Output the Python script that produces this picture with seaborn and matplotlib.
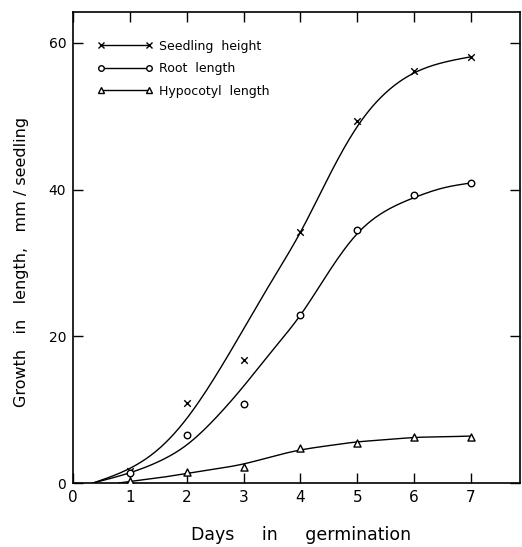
import numpy as np
import pandas as pd
import matplotlib
matplotlib.use("Agg")
import matplotlib.pyplot as plt
from matplotlib.lines import Line2D
import seaborn as sns

# Observed means (mm per seedling) on each day of germination
days = [1, 2, 3, 4, 5, 6, 7]
seedling_height = [1.7, 10.9, 16.8, 34.2, 49.3, 56.1, 58.1]
root_length = [1.3, 6.5, 10.8, 22.9, 34.5, 39.3, 40.9]
hypocotyl_length = [0.3, 1.5, 2.2, 4.8, 5.5, 6.3, 6.3]

# Hand-fitted growth curves, sampled at these days
curve_days = [0.35, 1, 1.5, 2, 2.5, 3, 3.5, 4, 4.5, 5, 5.5, 6, 6.5, 7]
seedling_curve = [0.0, 2.0, 4.6, 8.8, 14.5, 21.0, 27.6, 34.2, 41.8, 48.6, 53.2, 55.9, 57.3, 58.1]
root_curve = [0.0, 1.4, 2.9, 5.2, 8.8, 13.2, 18.0, 22.9, 28.8, 34.0, 37.1, 38.9, 40.2, 40.9]
hyp_curve_days = [0.8, 1, 1.5, 2, 2.5, 3, 3.5, 4, 4.5, 5, 5.5, 6, 6.5, 7]
hyp_curve = [0.0, 0.2, 0.7, 1.3, 1.9, 2.6, 3.6, 4.5, 5.1, 5.6, 5.9, 6.2, 6.3, 6.4]

labels = ["Seedling  height", "Root  length", "Hypocotyl  length"]


def natural_spline(x, y, xs):
    """Natural cubic spline through the sampled curve points."""
    x = np.asarray(x, float)
    y = np.asarray(y, float)
    n = len(x)
    h = np.diff(x)
    A = np.zeros((n, n))
    b = np.zeros(n)
    A[0, 0] = A[-1, -1] = 1.0
    for i in range(1, n - 1):
        A[i, i - 1] = h[i - 1]
        A[i, i] = 2 * (h[i - 1] + h[i])
        A[i, i + 1] = h[i]
        b[i] = 6 * ((y[i + 1] - y[i]) / h[i] - (y[i] - y[i - 1]) / h[i - 1])
    M = np.linalg.solve(A, b)
    idx = np.clip(np.searchsorted(x, xs) - 1, 0, n - 2)
    x0, x1 = x[idx], x[idx + 1]
    hi = h[idx]
    return (M[idx] * (x1 - xs) ** 3 / (6 * hi) + M[idx + 1] * (xs - x0) ** 3 / (6 * hi)
            + (y[idx] / hi - M[idx] * hi / 6) * (x1 - xs)
            + (y[idx + 1] / hi - M[idx + 1] * hi / 6) * (xs - x0))


sns.set_theme(style="ticks")
plt.rcParams["font.family"] = ["DejaVu Sans"]
plt.rcParams["text.color"] = "black"
plt.rcParams["axes.labelcolor"] = "black"

fig = plt.figure(figsize=(5.22, 5.47), dpi=100)
ax = fig.add_axes([0.140, 0.117, 0.856, 0.861])

curves = [
    (curve_days, seedling_curve),
    (curve_days, root_curve),
    (hyp_curve_days, hyp_curve),
]
frames = []
for (cx, cy), name in zip(curves, labels):
    xs = np.linspace(cx[0], cx[-1], 400)
    ys = np.clip(natural_spline(cx, cy, xs), 0, None)
    frames.append(pd.DataFrame({"day": xs, "value": ys, "series": name}))
curve_df = pd.concat(frames, ignore_index=True)

sns.lineplot(data=curve_df, x="day", y="value", units="series", estimator=None,
             color="black", linewidth=1.0, ax=ax, legend=False)

obs = pd.DataFrame({
    "day": days * 3,
    "value": seedling_height + root_length + hypocotyl_length,
    "series": [labels[0]] * 7 + [labels[1]] * 7 + [labels[2]] * 7,
})
styles = {labels[0]: dict(marker="x", s=22, color="black", linewidth=1.0),
          labels[1]: dict(marker="o", s=22, facecolor="white", edgecolor="black", linewidth=1.0),
          labels[2]: dict(marker="^", s=26, facecolor="white", edgecolor="black", linewidth=1.0)}
for name in labels:
    sub = obs[obs["series"] == name]
    sns.scatterplot(data=sub, x="day", y="value", ax=ax, zorder=3, legend=False, **styles[name])

ax.set_xlim(0, 7.86)
ax.set_ylim(0, 64.2)
ax.set_xticks([0, 1, 2, 3, 4, 5, 6, 7])
ax.set_yticks([0, 20, 40, 60])
ax.tick_params(direction="in", top=True, right=True, length=7, width=1.0,
               labelsize=11, color="black", labelcolor="black", pad=5)
ax.tick_params(axis="y", labelsize=10)
for sp in ax.spines.values():
    sp.set_visible(True)
    sp.set_linewidth(1.2)
    sp.set_color("black")

ax.set_xlabel("Days     in     germination", fontsize=12.5, color="black")
ax.set_ylabel("Growth   in   length,   mm / seedling", fontsize=11.5, color="black")
ax.xaxis.set_label_coords(0.51, -0.092)
ax.yaxis.set_label_coords(-0.098, 0.47)

handles = [
    Line2D([0, 1], [0, 0], color="black", lw=1.0, marker="x", ms=4, mew=1.0),
    Line2D([0, 1], [0, 0], color="black", lw=1.0, marker="o", ms=4, mfc="white", mec="black"),
    Line2D([0, 1], [0, 0], color="black", lw=1.0, marker="^", ms=4.5, mfc="white", mec="black"),
]
ax.legend(handles, labels, loc="upper left", bbox_to_anchor=(0.03, 0.965),
          frameon=False, numpoints=2, handlelength=4.4, handletextpad=0.5,
          labelspacing=0.75, fontsize=9, labelcolor="black")

fig.savefig("out.png", dpi=100)
